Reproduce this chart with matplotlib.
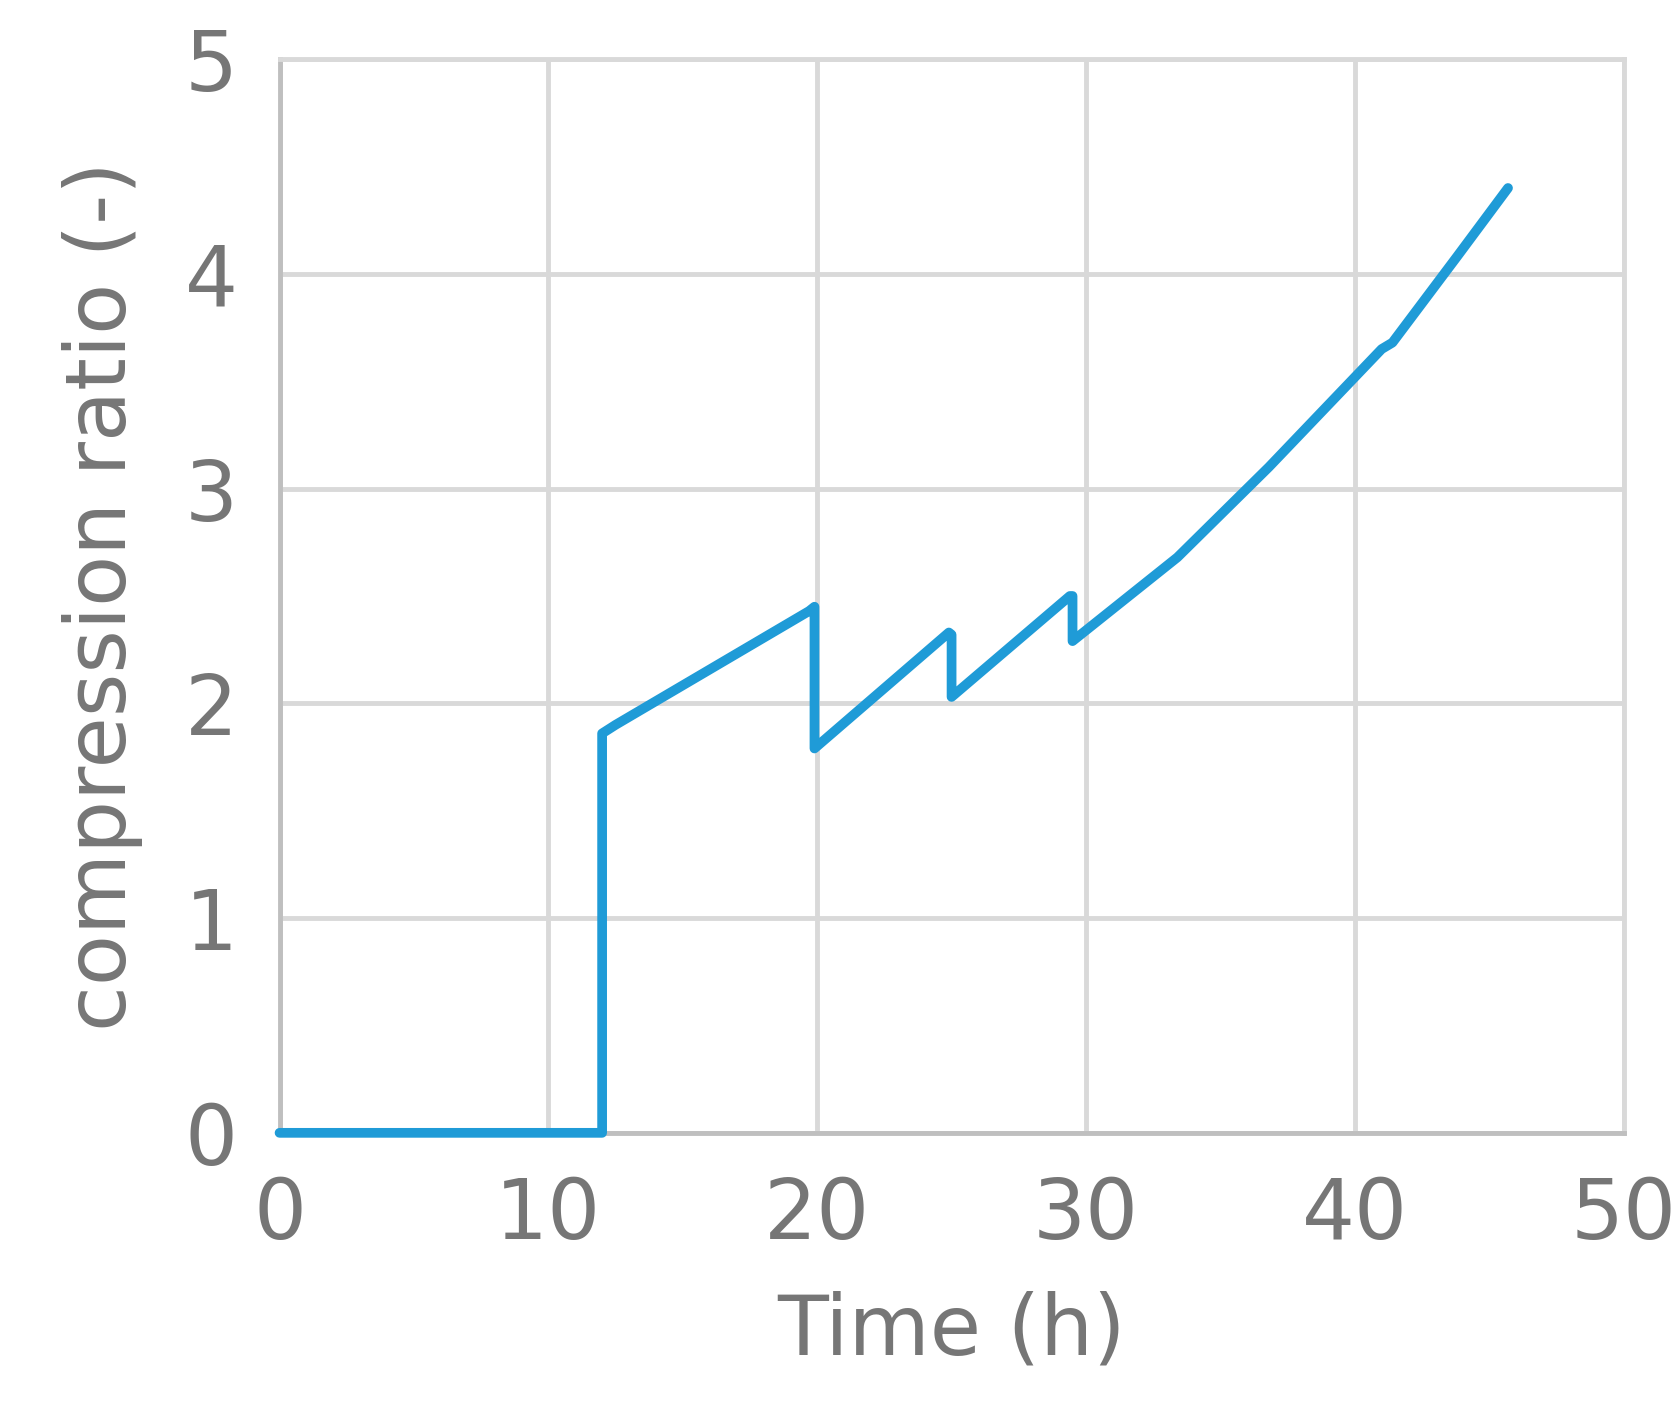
import matplotlib
matplotlib.use("Agg")
import matplotlib.pyplot as plt

time_h = [0, 12.0, 12.0, 12.5, 19.7, 19.9, 19.9, 24.9, 25.0, 25.0, 29.4, 29.5, 29.5, 33.4, 36.8, 41.0, 41.4, 43.8, 45.7]
ratio  = [0, 0, 1.86, 1.90, 2.43, 2.45, 1.79, 2.33, 2.32, 2.03, 2.50, 2.50, 2.29, 2.68, 3.10, 3.65, 3.68, 4.08, 4.40]
xticks = [0, 10, 20, 30, 40, 50]
yticks = [0, 1, 2, 3, 4, 5]

fig = plt.figure(figsize=(16.79, 14.09), dpi=100)
ax = fig.add_axes([0.1665, 0.196, 0.8005, 0.762])
ax.plot(time_h, ratio, color="#1f9bd7", lw=7, solid_joinstyle="round", solid_capstyle="round", zorder=3, clip_on=False)
ax.set_xlim(0, 50); ax.set_ylim(0, 5)
ax.set_xticks(xticks); ax.set_yticks(yticks)
ax.grid(True, color="#d9d9d9", lw=3.5)
for s in ax.spines.values():
    s.set_color("#d9d9d9"); s.set_linewidth(3.5)
ax.spines["left"].set_color("#bfbfbf"); ax.spines["bottom"].set_color("#bfbfbf")
ax.tick_params(length=0, labelsize=60, labelcolor="#767676", pad=30)
ax.set_xlabel("Time (h)", fontsize=60, color="#767676", labelpad=25)
ax.set_ylabel("compression ratio (-)", fontsize=60, color="#767676", labelpad=30)
fig.savefig("out.png", dpi=100)
